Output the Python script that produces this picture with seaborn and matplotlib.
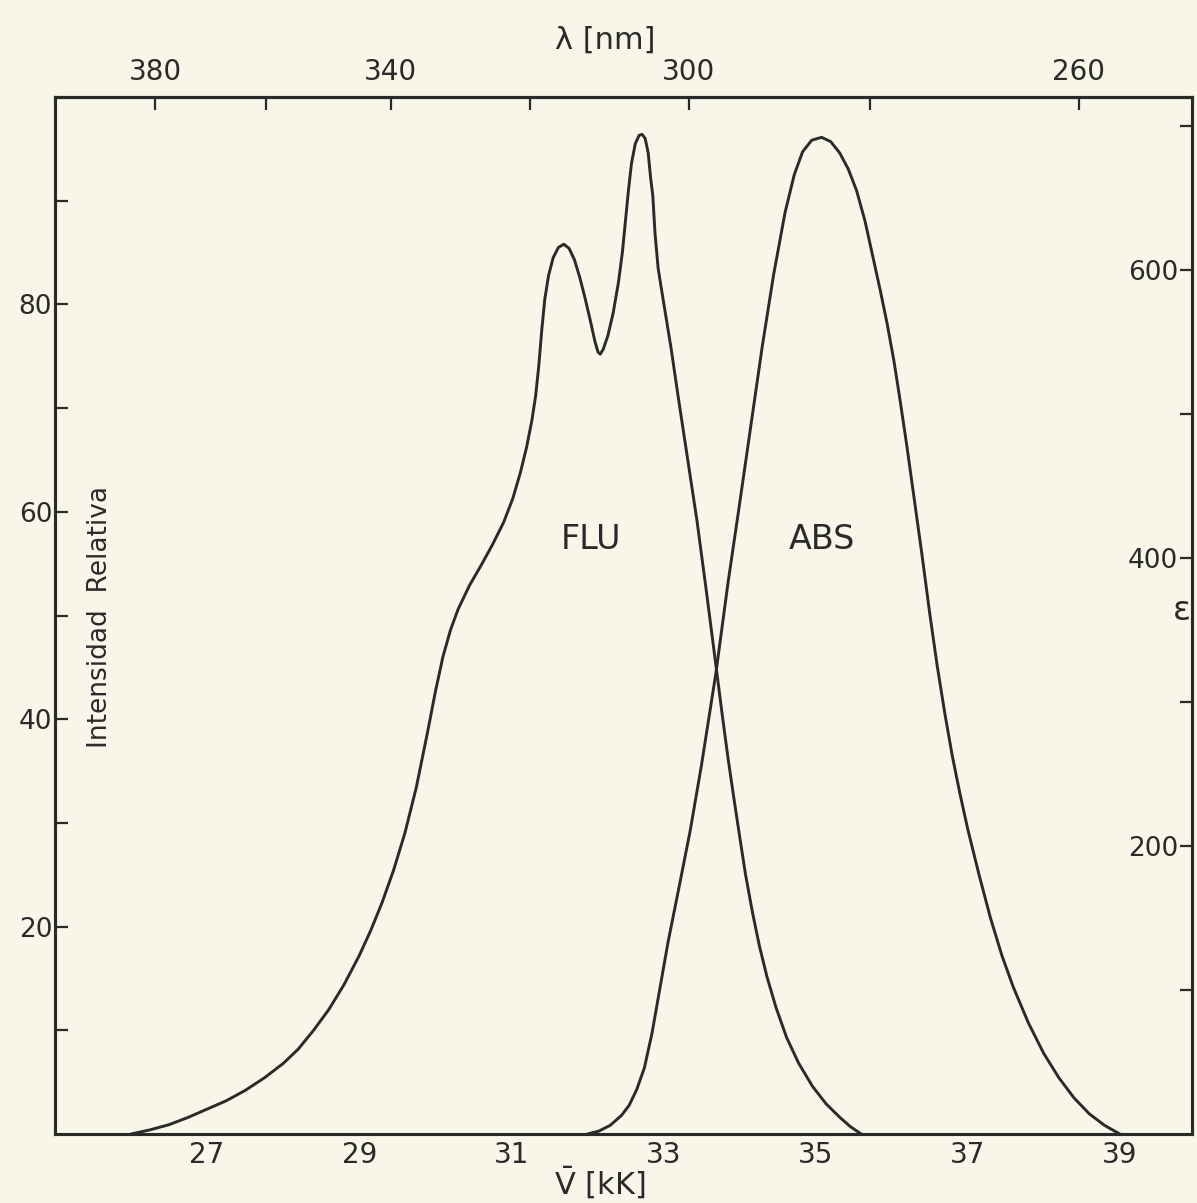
import numpy as np
import pandas as pd
import matplotlib
matplotlib.use("Agg")
import matplotlib.pyplot as plt
import seaborn as sns

# Fluorescence emission: wavenumber (kK) vs relative intensity
flu_kk = [26.0, 26.25, 26.5, 26.75, 27.0, 27.25, 27.5, 27.75, 28.0, 28.2,
          28.4, 28.6, 28.8, 29.0, 29.15, 29.3, 29.45, 29.6, 29.75, 29.9,
          30.0, 30.1, 30.2, 30.3, 30.45, 30.6, 30.75, 30.9, 31.02, 31.12,
          31.2, 31.27, 31.32, 31.36, 31.40, 31.44, 31.49, 31.55, 31.62, 31.69,
          31.76, 31.83, 31.90, 31.97, 32.04, 32.10, 32.14, 32.17, 32.21, 32.27,
          32.34, 32.41, 32.46, 32.50, 32.54, 32.58, 32.63, 32.68, 32.72, 32.76,
          32.80, 32.83, 32.86, 32.89, 32.93, 32.98, 33.1, 33.2, 33.32, 33.44,
          33.56, 33.69, 33.77, 33.85, 33.93, 34.0, 34.08, 34.17, 34.26, 34.36,
          34.48, 34.62, 34.78, 34.96, 35.14, 35.32, 35.46, 35.6]
flu_int = [0.0, 0.4, 0.9, 1.6, 2.4, 3.2, 4.2, 5.4, 6.8, 8.2,
           10.0, 12.0, 14.4, 17.2, 19.6, 22.3, 25.4, 29.0, 33.4, 38.8,
           42.6, 46.0, 48.6, 50.6, 52.9, 54.8, 56.8, 59.0, 61.3, 63.8,
           66.2, 68.8, 71.2, 74.0, 77.5, 80.5, 82.8, 84.5, 85.5, 85.8,
           85.4, 84.3, 82.6, 80.6, 78.4, 76.4, 75.4, 75.2, 75.7, 77.0,
           79.2, 82.2, 85.0, 88.0, 91.0, 93.6, 95.5, 96.3, 96.4, 96.0,
           94.6, 92.3, 90.5, 86.8, 83.5, 81.2, 75.8, 70.8, 65.0, 59.2,
           52.6, 45.2, 40.6, 36.2, 32.2, 28.8, 25.0, 21.4, 18.2, 15.2,
           12.2, 9.3, 6.8, 4.6, 2.9, 1.6, 0.7, 0.0]

# Absorption: wavenumber (kK) vs molar absorptivity
abs_kk = [32.0, 32.15, 32.3, 32.45, 32.55, 32.65, 32.75, 32.85, 32.95, 33.06,
          33.2, 33.35, 33.5, 33.69, 33.85, 34.0, 34.15, 34.3, 34.45, 34.6,
          34.72, 34.83, 34.95, 35.08, 35.2, 35.32, 35.43, 35.54, 35.65, 35.75,
          35.85, 35.94, 36.03, 36.11, 36.2, 36.3, 36.4, 36.5, 36.6, 36.7,
          36.8, 36.9, 37.0, 37.15, 37.3, 37.45, 37.6, 37.8, 38.0, 38.2,
          38.4, 38.6, 38.8, 39.0]
abs_eps = [0, 2, 6, 13, 20, 31, 46, 70, 100, 133,
           170, 210, 256, 320, 383, 437, 492, 547, 597, 640,
           666, 682, 690, 692, 689, 681, 670, 655, 634, 610,
           586, 563, 537, 510, 478, 440, 402, 362, 325, 292,
           262, 236, 212, 180, 150, 124, 102, 77, 56, 39,
           25, 14, 6, 0]

wn_major = [27, 29, 31, 33, 35, 37, 39]
wn_minor = [26, 28, 30, 32, 34, 36, 38]
nm_major = [380, 340, 300, 260]
nm_minor = [360, 320, 280]
int_major = [20, 40, 60, 80]
int_minor = [10, 30, 50, 70, 90]
eps_major = [200, 400, 600]
eps_minor = [100, 300, 500, 700]

flu = pd.DataFrame({"kK": flu_kk, "I": flu_int})
absorb = pd.DataFrame({"kK": abs_kk, "eps": abs_eps})

sns.set_theme(style="white")
plt.rcParams["font.family"] = ["DejaVu Sans"]

paper = "#f8f5e9"
ink = "#2a2a2a"

fig = plt.figure(figsize=(11.97, 12.03), dpi=100, facecolor=paper)
ax = fig.add_axes([55 / 1197, 69 / 1203, 1137 / 1197, 1037 / 1203])
ax.set_facecolor(paper)

sns.lineplot(data=flu, x="kK", y="I", ax=ax, color=ink, lw=2.1,
             sort=False, estimator=None)
ax.set_xlim(25.0, 39.95)
ax.set_ylim(0, 100)

ax2 = ax.twinx()
sns.lineplot(data=absorb, x="kK", y="eps", ax=ax2, color=ink, lw=2.1,
             sort=False, estimator=None)
ax2.set_ylim(0, 720)

for a in (ax, ax2):
    a.set_xlabel("")
    a.set_ylabel("")
    for line in a.get_lines():
        line.set_solid_joinstyle("round")
        line.set_solid_capstyle("round")
    for s in a.spines.values():
        s.set_color(ink)
        s.set_linewidth(2.2)

# bottom axis: wavenumber
ax.set_xticks(wn_major)
ax.set_xticks(wn_minor, minor=True)
ax.set_xticklabels([str(v) for v in wn_major])
ax.tick_params(axis="x", which="both", direction="in", length=9, width=1.6,
               color=ink, labelsize=20, labelcolor=ink, pad=5, top=False)

# left axis: relative intensity
ax.set_yticks(int_major)
ax.set_yticks(int_minor, minor=True)
ax.set_yticklabels([str(v) for v in int_major])
ax.tick_params(axis="y", which="both", direction="in", length=9, width=1.6,
               color=ink, labelsize=19, labelcolor=ink, pad=2, left=True)

# right axis: epsilon, labels sitting inside the frame
ax2.set_yticks(eps_major)
ax2.set_yticks(eps_minor, minor=True)
ax2.set_yticklabels([str(v) for v in eps_major])
ax2.tick_params(axis="y", which="both", direction="in", length=9, width=1.6,
                color=ink, labelsize=19, labelcolor=ink, pad=-10, right=True)
for lab in ax2.get_yticklabels():
    lab.set_horizontalalignment("right")


def kk_to_nm(x):
    x = np.asarray(x, dtype=float)
    with np.errstate(divide="ignore", invalid="ignore"):
        return 1e4 / x


# top axis: wavelength
top = ax.secondary_xaxis("top", functions=(kk_to_nm, kk_to_nm))
top.set_xticks(nm_major)
top.set_xticks(nm_minor, minor=True)
top.set_xticklabels([str(v) for v in nm_major])
top.tick_params(axis="x", which="both", direction="in", length=9, width=1.6,
                color=ink, labelsize=20, labelcolor=ink, pad=8)
top.spines["top"].set_linewidth(2.2)
top.spines["top"].set_color(ink)

ax.text(32.05, 57.3, "FLU", fontsize=24, color=ink, ha="center", va="center")
ax.text(35.08, 57.3, "ABS", fontsize=24, color=ink, ha="center", va="center")
ax.text(0.0396, 0.499, "Intensidad  Relativa", transform=ax.transAxes,
        rotation=90, fontsize=19, color=ink, ha="center", va="center")
ax.text(0.991, 0.505, "ε", transform=ax.transAxes, fontsize=24, color=ink,
        ha="center", va="center")

fig.text(605 / 1197, 1 - 40 / 1203, "λ [nm]", fontsize=22, color=ink,
         ha="center", va="center")
fig.text(600 / 1197, 1 - 1182 / 1203, r"$\bar{\mathrm{V}}$ [kK]", fontsize=22,
         color=ink, ha="center", va="center")

fig.savefig("out.png", dpi=100, facecolor=paper)
